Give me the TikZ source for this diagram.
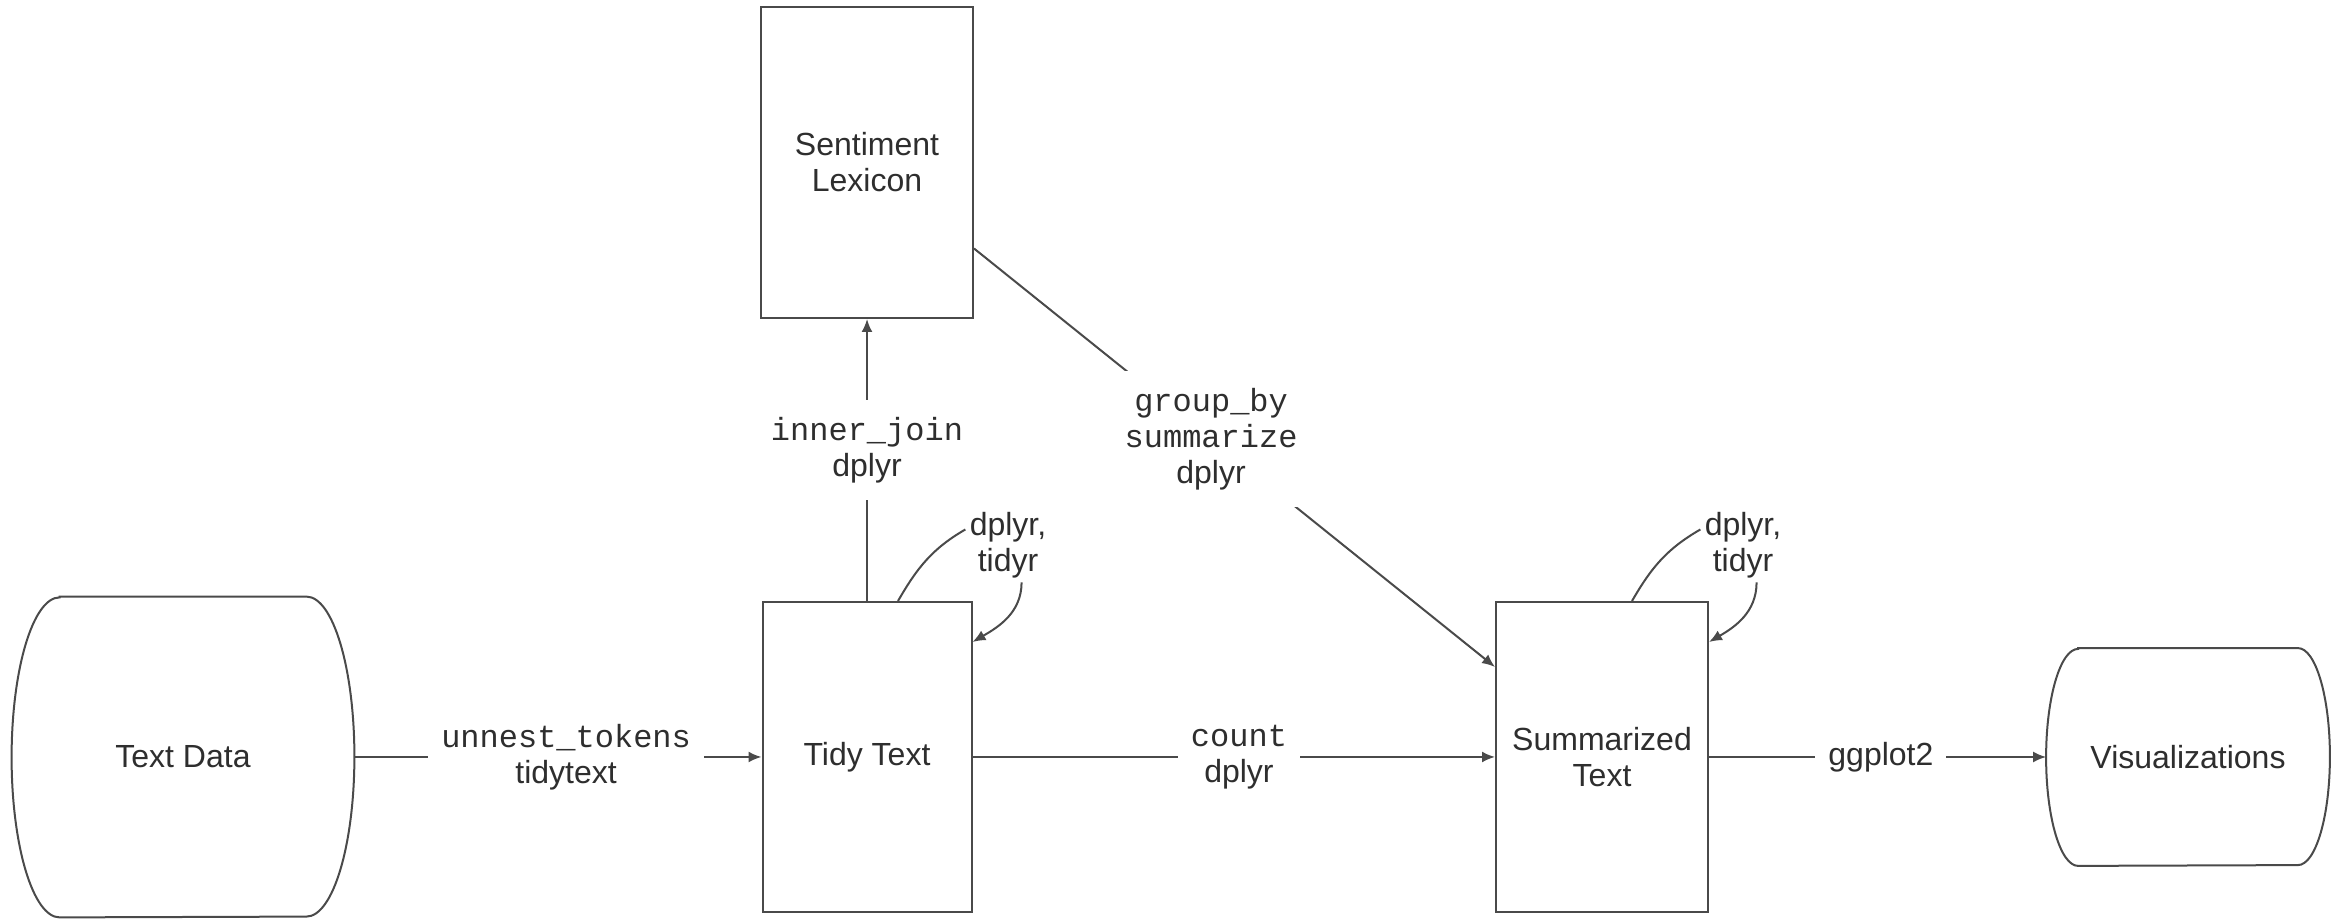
\documentclass[tikz,border=0pt]{standalone}
\usepackage{fontspec}
\setmainfont{Liberation Sans}
\setmonofont{Liberation Mono}
\usetikzlibrary{arrows.meta,calc}
\definecolor{ln}{HTML}{4A4A4A}
\definecolor{tx}{HTML}{2E2E2E}
\begin{document}
\begin{tikzpicture}[x=0.5pt,y=0.5pt,
  font=\fontsize{16}{18}\selectfont, text=tx,
  box/.style={draw=ln,line width=1pt,rectangle,inner sep=0pt,align=center},
  ghost/.style={rectangle,inner sep=0pt,align=center},
  plainline/.style={draw=ln,line width=1pt},
  conn/.style={draw=ln,line width=1pt,-{Latex[length=6.5pt,width=5.5pt]}},
  lbl/.style={fill=white,inner xsep=6.5pt,inner ysep=8.5pt,align=center},
  looplbl/.style={inner sep=2pt,align=center},
]
\useasboundingbox (0,0) rectangle (2339,920);
\fill[white] (0,0) rectangle (2339,920);

% nodes
\node[ghost,minimum width=171pt,minimum height=160pt] (tdata) at (183,163) {Text Data};
\node[box,minimum width=104.5pt,minimum height=155pt] (tidy) at (867,163) {Tidy Text};
\node[box,minimum width=106pt,minimum height=155.5pt] (lex) at (867,757.5) {Sentiment\\Lexicon};
\node[box,minimum width=106pt,minimum height=155pt] (summ) at (1602,163) {Summarized\\Text};
\node[ghost,minimum width=141.5pt,minimum height=108.5pt] (vis) at (2188,163) {Visualizations};

% terminal shapes
\draw[plainline] ([xshift=24pt]tdata.north west) -- ([xshift=-24pt]tdata.north east)
  arc[start angle=90,end angle=-90,x radius=24pt,y radius=80pt]
  -- ([xshift=24pt]tdata.south west)
  arc[start angle=270,end angle=90,x radius=24pt,y radius=80pt] -- cycle;
\draw[plainline] ([xshift=16pt]vis.north west) -- ([xshift=-16pt]vis.north east)
  arc[start angle=90,end angle=-90,x radius=16pt,y radius=54.25pt]
  -- ([xshift=16pt]vis.south west)
  arc[start angle=270,end angle=90,x radius=16pt,y radius=54.25pt] -- cycle;

% connectors
\draw[conn] (tdata.east) -- node[lbl,pos=0.52]{\texttt{unnest\_tokens}\\tidytext} (tidy.west);
\draw[conn] (tidy.east) -- node[lbl,pos=0.51]{\texttt{count}\\dplyr} (summ.west);
\draw[conn] (summ.east) -- node[lbl,pos=0.51]{ggplot2} (vis.west);
\draw[conn] (tidy.north) -- node[lbl,pos=0.535]{\texttt{inner\_join}\\dplyr} (lex.south);
\draw[conn] ([yshift=-43pt]lex.east) -- node[lbl,pos=0.455]{\texttt{group\_by}\\\texttt{summarize}\\dplyr} ([yshift=45pt]summ.west);

% self loops
\node[looplbl] (tl) at (1008,375) {dplyr,\\tidyr};
\draw[plainline] ([xshift=15.5pt]tidy.north) to[out=60,in=210] (tl.160);
\draw[conn] (tl.-70) to[out=-90,in=30] ([yshift=57.5pt]tidy.east);

\node[looplbl] (sl) at (1743,375) {dplyr,\\tidyr};
\draw[plainline] ([xshift=15pt]summ.north) to[out=60,in=210] (sl.160);
\draw[conn] (sl.-70) to[out=-90,in=30] ([yshift=57.5pt]summ.east);
\end{tikzpicture}
\end{document}
